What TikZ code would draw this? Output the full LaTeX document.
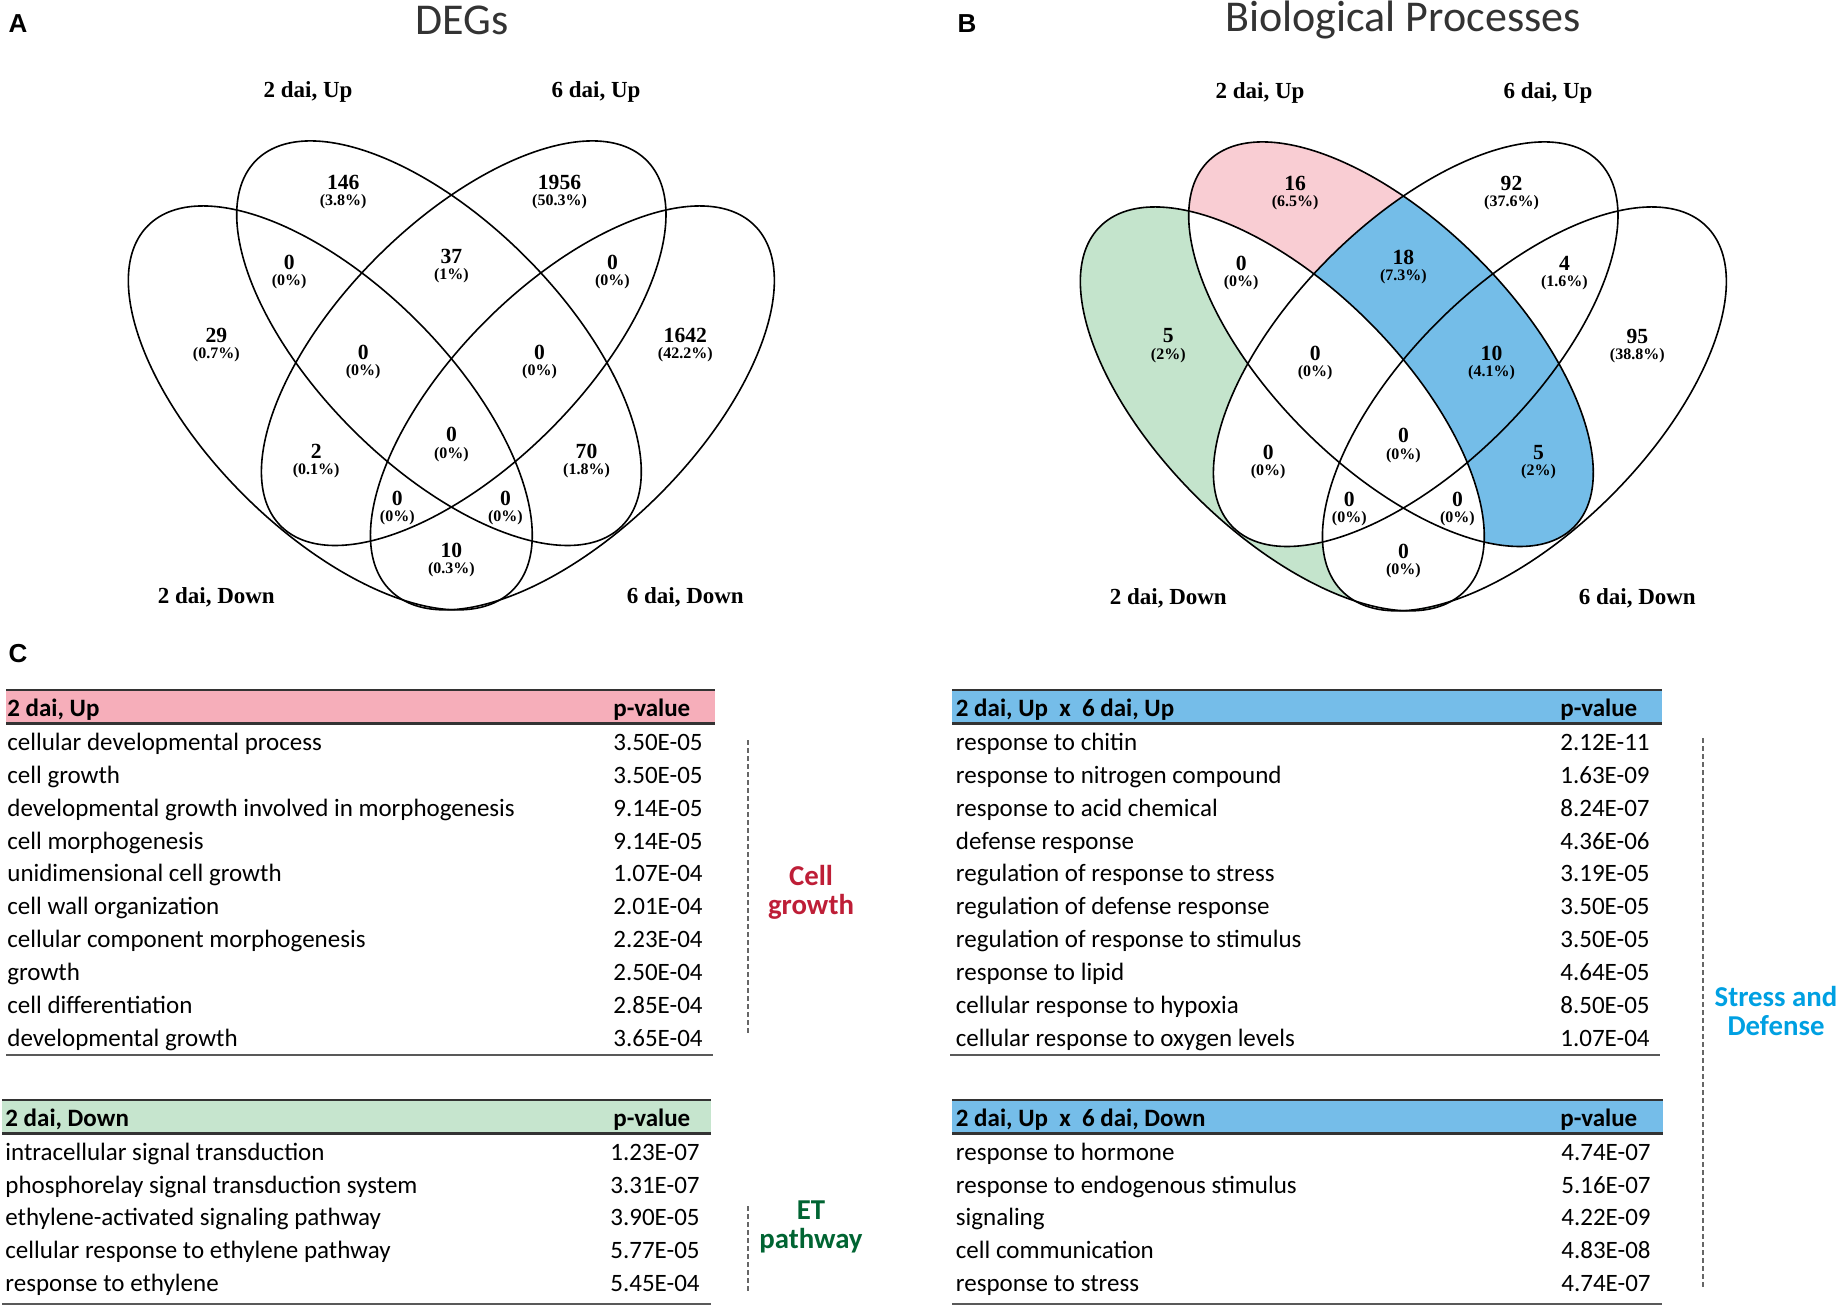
\documentclass[tikz,border=0pt]{standalone}
\usepackage{fontspec}
\setmainfont{Liberation Serif}
\newfontfamily\calibrifont{Carlito}
\newfontfamily\arialfont{Liberation Sans}
\usetikzlibrary{positioning}

\definecolor{vennPink}{RGB}{249,205,211}
\definecolor{vennGreen}{RGB}{196,228,204}
\definecolor{vennBlue}{RGB}{116,189,232}
\definecolor{headPink}{RGB}{246,174,186}
\definecolor{headGreen}{RGB}{198,229,206}
\definecolor{headBlue}{RGB}{117,189,233}
\definecolor{cellRed}{RGB}{190,30,55}
\definecolor{etGreen}{RGB}{0,100,50}
\definecolor{stressBlue}{RGB}{0,160,226}

% the four ellipses of one Venn diagram (pixel units)
\newcommand{\ellOL}{(330.3,407.9) ellipse [x radius=257.8, y radius=122.8, rotate=-45]}
\newcommand{\ellOR}{(572.4,407.9) ellipse [x radius=257.8, y radius=122.8, rotate=45]}
\newcommand{\ellIL}{(439.0,343.2) ellipse [x radius=258.6, y radius=122.2, rotate=-45]}
\newcommand{\ellIR}{(463.7,343.2) ellipse [x radius=258.6, y radius=122.2, rotate=45]}

% one region count: number with percentage below
\newcommand{\vcount}[5]{%
  \node[Count] (#1) at (#2,#3) {#4};
  \node[Pct,below=2pt of #1] (#1p) {(#5)};}

\begin{document}
\begin{tikzpicture}[x=0.5pt,y=-0.5pt]

  \useasboundingbox (0,0) rectangle (1843,1306);

  % node styles
  \tikzstyle{Panel}=[font=\arialfont\bfseries\fontsize{13}{15}\selectfont,inner sep=0pt]
  \tikzstyle{Title}=[font=\calibrifont\fontsize{22}{26}\selectfont,text=black!80,inner sep=0pt]
  \tikzstyle{Set}=[font=\bfseries\fontsize{11.5}{13}\selectfont,inner sep=0pt]
  \tikzstyle{Count}=[font=\bfseries\fontsize{10.8}{12}\selectfont,inner sep=0pt]
  \tikzstyle{Pct}=[font=\bfseries\fontsize{8}{9}\selectfont,inner sep=0pt]
  \tikzstyle{Outline}=[line width=0.8pt]
  \tikzstyle{Term}=[anchor=base west,font=\calibrifont\fontsize{12.5}{15}\selectfont,inner sep=0pt]
  \tikzstyle{Head}=[anchor=base west,font=\calibrifont\bfseries\fontsize{12.5}{15}\selectfont,inner sep=0pt]
  \tikzstyle{Group}=[font=\calibrifont\bfseries\fontsize{14.4}{14.5}\selectfont,align=center,inner sep=0pt]
  \tikzstyle{Bracket}=[line width=0.6pt,black!60,dash pattern=on 2.5pt off 1.5pt]
  \tikzstyle{Rule}=[line width=1.1pt,black!80]
  \tikzstyle{Foot}=[line width=1pt,black!65]

  % panel letters and titles
  \node[Panel] (pA) at (18,24) {A};
  \node[Panel] (pB) at (967,24) {B};
  \node[Panel] (pC) at (18,654) {C};
  \node[Title] (tA) at (462,20) {DEGs};
  \node[Title] (tB) at (1403,20) {Biological Processes};

  % Venn A
  \begin{scope}
    \draw[Outline] \ellOL;
    \draw[Outline] \ellOR;
    \draw[Outline] \ellIL;
    \draw[Outline] \ellIR;

    \node[Set] (aUp2) at (308,91.7) {2 dai, Up};
    \node[Set] (aUp6) at (596,91.7) {6 dai, Up};
    \node[Set] (aDn2) at (216.3,597) {2 dai, Down};
    \node[Set] (aDn6) at (685.3,597) {6 dai, Down};

    \vcount{a1}{343.2}{182.2}{146}{3.8\%}
    \vcount{a2}{559.5}{182.2}{1956}{50.3\%}
    \vcount{a3}{289.2}{262.1}{0}{0\%}
    \vcount{a4}{451.4}{256.2}{37}{1\%}
    \vcount{a5}{612.4}{262.1}{0}{0\%}
    \vcount{a6}{216.3}{335}{29}{0.7\%}
    \vcount{a7}{363.2}{352.6}{0}{0\%}
    \vcount{a8}{539.5}{352.6}{0}{0\%}
    \vcount{a9}{685.3}{335}{1642}{42.2\%}
    \vcount{a10}{451.4}{434.9}{0}{0\%}
    \vcount{a11}{316.2}{451.4}{2}{0.1\%}
    \vcount{a12}{586.5}{451.4}{70}{1.8\%}
    \vcount{a13}{397.3}{498.4}{0}{0\%}
    \vcount{a14}{505.4}{498.4}{0}{0\%}
    \vcount{a15}{451.4}{550}{10}{0.3\%}
  \end{scope}

  % Venn B
  \begin{scope}[shift={(952,1)}]
    \fill[vennGreen] \ellOL;
    \fill[white] \ellIR;
    \fill[white] \ellOR;
    \begin{scope}
      \clip \ellIL;
      \fill[vennPink] \ellIL;
      \fill[vennBlue] \ellIR;
      \fill[vennBlue] \ellOR;
      \fill[white] \ellOL;
    \end{scope}
    \draw[Outline] \ellOL;
    \draw[Outline] \ellOR;
    \draw[Outline] \ellIL;
    \draw[Outline] \ellIR;

    \node[Set] (bUp2) at (308,91.7) {2 dai, Up};
    \node[Set] (bUp6) at (596,91.7) {6 dai, Up};
    \node[Set] (bDn2) at (216.3,597) {2 dai, Down};
    \node[Set] (bDn6) at (685.3,597) {6 dai, Down};

    \vcount{b1}{343.2}{182.2}{16}{6.5\%}
    \vcount{b2}{559.5}{182.2}{92}{37.6\%}
    \vcount{b3}{289.2}{262.1}{0}{0\%}
    \vcount{b4}{451.4}{256.2}{18}{7.3\%}
    \vcount{b5}{612.4}{262.1}{4}{1.6\%}
    \vcount{b6}{216.3}{335}{5}{2\%}
    \vcount{b7}{363.2}{352.6}{0}{0\%}
    \vcount{b8}{539.5}{352.6}{10}{4.1\%}
    \vcount{b9}{685.3}{335}{95}{38.8\%}
    \vcount{b10}{451.4}{434.9}{0}{0\%}
    \vcount{b11}{316.2}{451.4}{0}{0\%}
    \vcount{b12}{586.5}{451.4}{5}{2\%}
    \vcount{b13}{397.3}{498.4}{0}{0\%}
    \vcount{b14}{505.4}{498.4}{0}{0\%}
    \vcount{b15}{451.4}{550}{0}{0\%}
  \end{scope}

  % table 2 dai, Up
  \fill[headPink] (6,690) rectangle (715,723);
  \draw[Rule] (6,690) -- (715,690);
  \draw[Rule] (6,723.5) -- (715,723.5);
  \draw[Foot] (6,1055) -- (713,1055);
  \node[Head] (hUp) at (7,716) {2 dai, Up};
  \node[Head] (hUpP) at (613,716) {p-value};
  \foreach \term/\pval [count=\i from 0] in {
      cellular developmental process/3.50E-05,
      cell growth/3.50E-05,
      developmental growth involved in morphogenesis/9.14E-05,
      cell morphogenesis/9.14E-05,
      unidimensional cell growth/1.07E-04,
      cell wall organization/2.01E-04,
      cellular component morphogenesis/2.23E-04,
      growth/2.50E-04,
      cell differentiation/2.85E-04,
      developmental growth/3.65E-04}{
    \node[Term] (up\i) at (7,750.3+32.9*\i) {\term};
    \node[Term] (upP\i) at (613,750.3+32.9*\i) {\pval};
  }
  \draw[Bracket] (748,740) -- (748,1035);
  \node[Group,text=cellRed] (gCell) at (811,892) {Cell\\growth};

  % table 2 dai, Down
  \fill[headGreen] (2,1100) rectangle (711,1133);
  \draw[Rule] (2,1100) -- (711,1100);
  \draw[Rule] (2,1133.5) -- (711,1133.5);
  \draw[Foot] (2,1303.5) -- (711,1303.5);
  \node[Head] (hDn) at (5,1126) {2 dai, Down};
  \node[Head] (hDnP) at (613,1126) {p-value};
  \foreach \term/\pval [count=\i from 0] in {
      intracellular signal transduction/1.23E-07,
      phosphorelay signal transduction system/3.31E-07,
      ethylene-activated signaling pathway/3.90E-05,
      cellular response to ethylene pathway/5.77E-05,
      response to ethylene/5.45E-04}{
    \node[Term] (dn\i) at (5,1160.3+32.7*\i) {\term};
    \node[Term] (dnP\i) at (610,1160.3+32.7*\i) {\pval};
  }
  \draw[Bracket] (748,1206) -- (748,1293);
  \node[Group,text=etGreen] (gET) at (811,1227) {ET\\pathway};

  % table 2 dai, Up x 6 dai, Up
  \fill[headBlue] (952,690) rectangle (1662,723);
  \draw[Rule] (952,690) -- (1662,690);
  \draw[Rule] (952,723.5) -- (1662,723.5);
  \draw[Foot] (950,1055) -- (1660,1055);
  \node[Head] (hUU) at (955.5,716) {2 dai, Up~~x~~6 dai, Up};
  \node[Head] (hUUP) at (1560,716) {p-value};
  \foreach \term/\pval [count=\i from 0] in {
      response to chitin/2.12E-11,
      response to nitrogen compound/1.63E-09,
      response to acid chemical/8.24E-07,
      defense response/4.36E-06,
      regulation of response to stress/3.19E-05,
      regulation of defense response/3.50E-05,
      regulation of response to stimulus/3.50E-05,
      response to lipid/4.64E-05,
      cellular response to hypoxia/8.50E-05,
      cellular response to oxygen levels/1.07E-04}{
    \node[Term] (uu\i) at (955.5,750.3+32.9*\i) {\term};
    \node[Term] (uuP\i) at (1560,750.3+32.9*\i) {\pval};
  }

  % table 2 dai, Up x 6 dai, Down
  \fill[headBlue] (952,1100) rectangle (1663,1133);
  \draw[Rule] (952,1100) -- (1663,1100);
  \draw[Rule] (952,1133.5) -- (1663,1133.5);
  \draw[Foot] (952,1303.5) -- (1662,1303.5);
  \node[Head] (hUD) at (955.5,1126) {2 dai, Up~~x~~6 dai, Down};
  \node[Head] (hUDP) at (1560,1126) {p-value};
  \foreach \term/\pval [count=\i from 0] in {
      response to hormone/4.74E-07,
      response to endogenous stimulus/5.16E-07,
      signaling/4.22E-09,
      cell communication/4.83E-08,
      response to stress/4.74E-07}{
    \node[Term] (ud\i) at (955.5,1160.3+32.7*\i) {\term};
    \node[Term] (udP\i) at (1561,1160.3+32.7*\i) {\pval};
  }
  \draw[Bracket] (1703,738) -- (1703,1287);
  \node[Group,text=stressBlue] (gStress) at (1776,1011) {Stress and\\Defense};

\end{tikzpicture}
\end{document}
